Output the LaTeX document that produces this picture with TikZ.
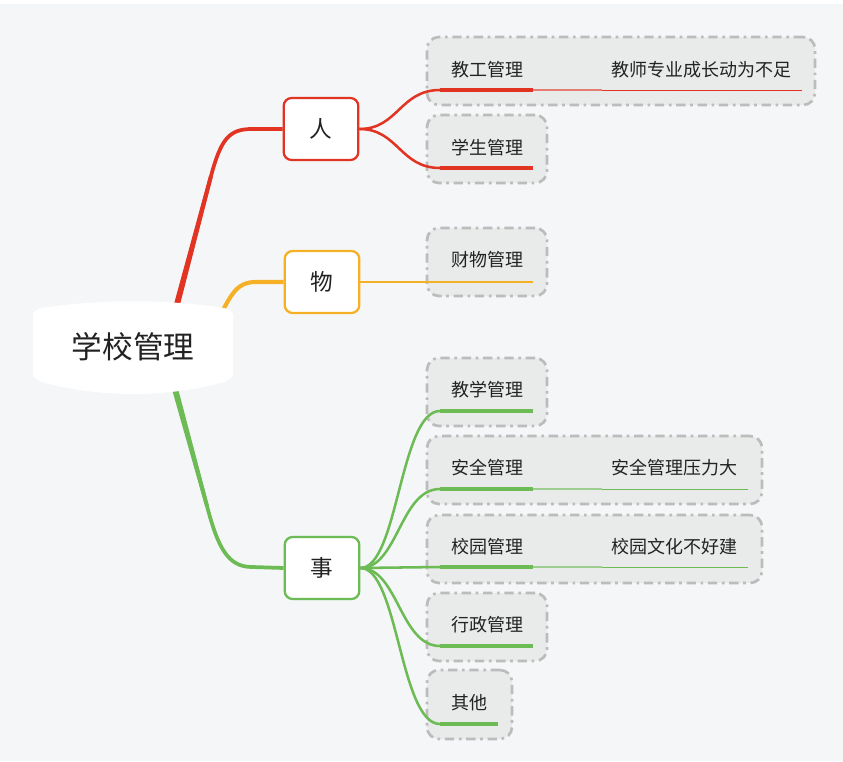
\documentclass[tikz,border=0pt]{standalone}
\usepackage{fontspec}
\setmainfont{Noto Sans CJK SC}
\definecolor{bg}{HTML}{F5F6F8}
\definecolor{cred}{HTML}{E23423}
\definecolor{corg}{HTML}{F5B026}
\definecolor{cgrn}{HTML}{6CBB54}
\definecolor{bord}{HTML}{BCBCBC}
\definecolor{boxf}{HTML}{E9EAEA}
\definecolor{txt}{HTML}{222222}
\tikzset{
  mainbox/.style={draw, line width=1.7pt, rounded corners=6pt, fill=white, minimum width=56pt, minimum height=46.5pt, inner sep=0pt, font=\fontsize{17}{20}\selectfont, text=txt},
  cbox/.style={draw=bord, fill=boxf, line width=2pt, dash pattern=on 7pt off 3.5pt on 2pt off 3.5pt, rounded corners=9pt, minimum height=51pt, inner sep=0pt},
  ctext/.style={font=\fontsize{13.5}{16}\selectfont, text=txt, inner sep=0pt},
  branch/.style={line width=2.8pt},
  conn/.style={line width=1.9pt},
  uthick/.style={line width=3pt},
  umid/.style={line width=2pt, opacity=0.6},
  uthin/.style={line width=0.75pt},
}
\begin{document}
\begin{tikzpicture}[x=0.75pt,y=-0.75pt]
\useasboundingbox (0,0) rectangle (843,761);
\fill[bg] (0,0) rectangle (843,761);
\fill[white] (0,0) rectangle (843,4);

% child boxes
\node[cbox, minimum width=291pt] (b1) at (621,71) {};
\node[cbox, minimum width=90pt] (b2) at (487,149) {};
\node[cbox, minimum width=90pt] (b3) at (487,262) {};
\node[cbox, minimum width=90pt] (b4) at (487,392) {};
\node[cbox, minimum width=251.25pt] (b5) at (594.5,470) {};
\node[cbox, minimum width=251.25pt] (b6) at (594.5,549) {};
\node[cbox, minimum width=90pt] (b7) at (487,627) {};
\node[cbox, minimum width=63.75pt, minimum height=51.75pt] (b8) at (469.5,704.5) {};

% texts
\node[ctext] (t1) at (487,70) {教工管理};
\node[ctext, anchor=west] (s1) at (611,70) {教师专业成长动为不足};
\node[ctext] (t2) at (487,148) {学生管理};
\node[ctext] (t3) at (487,260) {财物管理};
\node[ctext] (t4) at (487,390) {教学管理};
\node[ctext] (t5) at (487,468) {安全管理};
\node[ctext, anchor=west] (s5) at (611,468) {安全管理压力大};
\node[ctext] (t6) at (487,547) {校园管理};
\node[ctext, anchor=west] (s6) at (611,547) {校园文化不好建};
\node[ctext] (t7) at (487,625) {行政管理};
\node[ctext] (t8) at (469,703) {其他};

% main nodes
\node[mainbox, draw=cred] (ren) at (321,129) {人};
\node[mainbox, draw=corg] (wu) at (322,282) {物};
\node[mainbox, draw=cgrn] (shi) at (322,568) {事};

% underline coordinates
\coordinate (u1) at (440,90);  \coordinate (u1b) at (533,90); \coordinate (u1c) at (602,90); \coordinate (u1d) at (802,90);
\coordinate (u2) at (440,168); \coordinate (u2b) at (533,168);
\coordinate (u3b) at (533,282);
\coordinate (u4) at (440,411); \coordinate (u4b) at (533,411);
\coordinate (u5) at (440,489); \coordinate (u5b) at (533,489); \coordinate (u5c) at (602,489); \coordinate (u5d) at (748,489);
\coordinate (u6) at (440,567); \coordinate (u6b) at (533,567); \coordinate (u6c) at (602,567); \coordinate (u6d) at (748,567);
\coordinate (u7) at (440,646); \coordinate (u7b) at (533,646);
\coordinate (u8) at (440,724); \coordinate (u8b) at (498,724);

% root branch starts
\coordinate (rR) at (176,308);
\coordinate (rO) at (219,318);
\coordinate (rG) at (175,389);

% root branches (tapered)
\fill[cred] (173.1,307.2) -- (178.9,308.8) -- (212.9,176.5) -- (209.1,175.5) -- cycle;
\draw[branch, cred] (rR) -- (211,176) .. controls (221,139) and (229,129) .. (252,129) -- (ren.west);
\draw[line width=3.1pt, corg] (rO) .. controls (232,292) and (238,282) .. (256,282) -- (wu.west);
\fill[cgrn] (172.1,389.8) -- (177.9,388.2) -- (208.8,505.5) -- (205.2,506.5) -- cycle;
\draw[branch, cgrn] (rG) -- (207,506) .. controls (218,548) and (228,567) .. (252,567) -- (shi.west);

% ren children
\draw[conn, cred] (ren.east) .. controls (398,129) and (400,90) .. (u1);
\draw[conn, cred] (ren.east) .. controls (398,129) and (400,168) .. (u2);
\draw[uthick, cred] (u1) -- (u1b);
\draw[umid, cred] (u1b) -- (u1c);
\draw[uthin, cred] (u1c) -- (u1d);
\draw[uthick, cred] (u2) -- (u2b);

% wu child
\draw[line width=2.2pt, corg] (wu.east) -- (u3b);

% shi children
\draw[conn, cgrn] (shi.east) .. controls (398,568) and (400,411) .. (u4);
\draw[conn, cgrn] (shi.east) .. controls (398,568) and (400,489) .. (u5);
\draw[conn, cgrn] (shi.east) -- (u6);
\draw[conn, cgrn] (shi.east) .. controls (398,568) and (400,646) .. (u7);
\draw[conn, cgrn] (shi.east) .. controls (398,568) and (400,724) .. (u8);
\draw[uthick, cgrn] (u4) -- (u4b);
\draw[uthick, cgrn] (u5) -- (u5b);
\draw[umid, cgrn] (u5b) -- (u5c);
\draw[uthin, cgrn] (u5c) -- (u5d);
\draw[uthick, cgrn] (u6) -- (u6b);
\draw[umid, cgrn] (u6b) -- (u6c);
\draw[uthin, cgrn] (u6c) -- (u6d);
\draw[uthick, cgrn] (u7) -- (u7b);
\draw[uthick, cgrn] (u8) -- (u8b);

% root
\fill[white] (33,314) .. controls (35,310) and (38,309) .. (42,308)
  .. controls (100,299) and (166,299) .. (224,308)
  .. controls (228,309) and (231,310) .. (233,314) -- (233,375)
  .. controls (231,379) and (228,380) .. (224,382)
  .. controls (166,398) and (100,398) .. (42,382)
  .. controls (38,380) and (35,379) .. (33,375) -- cycle;
\node[font=\fontsize{23}{26}\selectfont, text=txt, inner sep=0pt] (root) at (133,347) {学校管理};
\end{tikzpicture}
\end{document}
